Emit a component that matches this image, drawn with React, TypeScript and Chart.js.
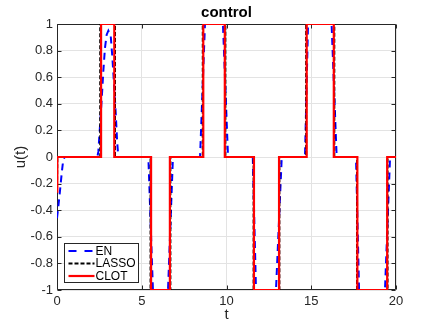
import React, { useEffect, useRef } from "react";
import { Chart, registerables } from "chart.js";
Chart.register(...registerables);

// EN (elastic net) control
const enT = [0, 0.08, 0.18, 0.28, 0.36, 0.45, 2.38, 2.44, 2.54, 2.64, 2.73, 2.83, 2.93, 3.03, 3.17, 3.26, 3.36, 3.46, 3.55, 3.62, 5.39, 5.66, 6.55, 6.84, 8.44, 8.73, 9.79, 10.09, 11.55, 11.74, 12.92, 13.26, 14.63, 14.81, 16.2, 16.5, 17.64, 17.82, 19.35, 19.65, 20];
const enU = [-0.46, -0.37, -0.25, -0.12, -0.03, 0, 0, 0.04, 0.24, 0.44, 0.64, 0.82, 0.92, 0.95, 0.91, 0.76, 0.56, 0.34, 0.11, 0, 0, -1, -1, 0, 0, 1, 1, 0, 0, -1, -1, 0, 0, 1, 1, 0, 0, -1, -1, 0, 0];

// LASSO control
const lassoT = [0, 0.02, 2.55, 2.55, 3.42, 3.42, 5.52, 5.52, 6.69, 6.69, 8.6, 8.6, 9.93, 9.93, 11.6, 11.6, 13.12, 13.12, 14.7, 14.7, 16.36, 16.36, 17.7, 17.7, 19.5, 19.5, 20];
const lassoU = [-0.22, 0, 0, 1, 1, 0, 0, -1, -1, 0, 0, 1, 1, 0, 0, -1, -1, 0, 0, 1, 1, 0, 0, -1, -1, 0, 0];

// CLOT control
const clotT = [0, 0.02, 2.6, 2.6, 3.38, 3.38, 5.55, 5.55, 6.66, 6.66, 8.63, 8.63, 9.9, 9.9, 11.62, 11.62, 13.1, 13.1, 14.73, 14.73, 16.33, 16.33, 17.72, 17.72, 19.48, 19.48, 20];
const clotU = [-0.26, 0, 0, 1, 1, 0, 0, -1, -1, 0, 0, 1, 1, 0, 0, -1, -1, 0, 0, 1, 1, 0, 0, -1, -1, 0, 0];

const xTicks = [0, 5, 10, 15, 20];
const yTicks = [-1, -0.8, -0.6, -0.4, -0.2, 0, 0.2, 0.4, 0.6, 0.8, 1];
const titleText = "control";
const xLabel = "t";
const yLabel = "u(t)";

const AX = "#262626";
const FONT = "'Liberation Sans', Arial, Helvetica, sans-serif";

const toPts = (t: number[], u: number[]) => t.map((x, i) => ({ x, y: u[i] }));

const framePlugin = {
  id: "frame",
  beforeDatasetsDraw(chart: any) {
    const { ctx, chartArea, scales } = chart;
    const l = Math.round(chartArea.left) + 0.5;
    const r = Math.round(chartArea.right) - 0.5;
    const t = Math.round(chartArea.top) + 0.5;
    const b = Math.round(chartArea.bottom) - 0.5;
    ctx.save();
    ctx.strokeStyle = AX;
    ctx.lineWidth = 1;
    ctx.beginPath();
    ctx.rect(l, t, r - l, b - t);
    const len = 4;
    xTicks.forEach((v) => {
      const px = Math.round(scales.x.getPixelForValue(v)) + 0.5;
      ctx.moveTo(px, b);
      ctx.lineTo(px, b - len);
      ctx.moveTo(px, t);
      ctx.lineTo(px, t + len);
    });
    yTicks.forEach((v) => {
      const py = Math.round(scales.y.getPixelForValue(v)) + 0.5;
      ctx.moveTo(l, py);
      ctx.lineTo(l + len, py);
      ctx.moveTo(r, py);
      ctx.lineTo(r - len, py);
    });
    ctx.stroke();
    ctx.restore();
  },
  afterDraw(chart: any) {
    const { ctx, chartArea } = chart;
    ctx.save();
    // title
    ctx.fillStyle = "#000";
    ctx.font = `bold 15px ${FONT}`;
    ctx.textAlign = "center";
    ctx.textBaseline = "middle";
    ctx.fillText(titleText, (chartArea.left + chartArea.right) / 2, 13);
    // legend
    const bx = Math.round(chartArea.left) + 7.5;
    const by = Math.round(chartArea.bottom) - 46.5;
    const bw = 74;
    const bh = 39;
    ctx.fillStyle = "#fff";
    ctx.fillRect(bx, by, bw, bh);
    ctx.strokeStyle = AX;
    ctx.lineWidth = 1;
    ctx.setLineDash([]);
    ctx.strokeRect(bx, by, bw, bh);
    const ds = chart.data.datasets;
    ctx.font = `12px ${FONT}`;
    ctx.textAlign = "left";
    ctx.textBaseline = "middle";
    ds.forEach((d: any, i: number) => {
      const y = by + 7.5 + i * 12.5;
      ctx.beginPath();
      ctx.strokeStyle = d.borderColor;
      ctx.lineWidth = d.borderWidth;
      ctx.setLineDash(d.legendDash || []);
      ctx.moveTo(bx + 4, y);
      ctx.lineTo(bx + 30, y);
      ctx.stroke();
      ctx.setLineDash([]);
      ctx.fillStyle = "#000";
      ctx.fillText(d.label, bx + 31, y + 0.5);
    });
    ctx.restore();
  },
};

export default function App() {
  const ref = useRef<HTMLCanvasElement>(null);
  useEffect(() => {
    document.body.style.margin = "0";
    const chart = new Chart(ref.current as HTMLCanvasElement, {
      type: "line",
      data: {
        datasets: [
          {
            label: "EN",
            data: toPts(enT, enU),
            borderColor: "#0000ff",
            borderWidth: 2,
            borderDash: [7, 5],
            legendDash: [8, 8],
            pointRadius: 0,
            fill: false,
            tension: 0,
            order: 3,
          } as any,
          {
            label: "LASSO",
            data: toPts(lassoT, lassoU),
            borderColor: "#000000",
            borderWidth: 2,
            borderDash: [4, 2],
            legendDash: [4, 2],
            pointRadius: 0,
            fill: false,
            tension: 0,
            order: 2,
          } as any,
          {
            label: "CLOT",
            data: toPts(clotT, clotU),
            borderColor: "#ff0000",
            borderWidth: 2.2,
            pointRadius: 0,
            fill: false,
            tension: 0,
            order: 1,
          } as any,
        ],
      },
      plugins: [framePlugin],
      options: {
        animation: false,
        responsive: false,
        devicePixelRatio: 1,
        layout: { padding: { top: 24, right: 40, left: 0, bottom: 0 } },
        plugins: {
          legend: { display: false },
          title: { display: false },
          tooltip: { enabled: false },
        },
        scales: {
          x: {
            type: "linear",
            min: 0,
            max: 20,
            afterFit: (s: any) => {
              s.height = 37;
            },
            afterBuildTicks: (s: any) => {
              s.ticks = xTicks.map((v) => ({ value: v }));
            },
            grid: { color: "#e3e3e3", drawTicks: false },
            border: { display: false },
            ticks: {
              padding: 4,
              color: AX,
              font: { family: FONT, size: 13 },
              maxRotation: 0,
              callback: (v: any) => String(v),
            },
            title: {
              display: true,
              text: xLabel,
              color: AX,
              font: { family: FONT, size: 15 },
              padding: { top: 0, bottom: 3 },
            },
          },
          y: {
            type: "linear",
            min: -1,
            max: 1,
            afterFit: (s: any) => {
              s.width = 57;
            },
            afterBuildTicks: (s: any) => {
              s.ticks = yTicks.map((v) => ({ value: v }));
            },
            grid: { color: "#e3e3e3", drawTicks: false },
            border: { display: false },
            ticks: {
              padding: 4,
              color: AX,
              font: { family: FONT, size: 13 },
              callback: (v: any) => String(Number(Number(v).toFixed(1))),
            },
            title: {
              display: true,
              text: yLabel,
              color: AX,
              font: { family: FONT, size: 15 },
              padding: { top: 12, bottom: 0 },
            },
          },
        },
      } as any,
    });
    return () => chart.destroy();
  }, []);
  return <canvas ref={ref} width={436} height={327} style={{ display: "block" }} />;
}
